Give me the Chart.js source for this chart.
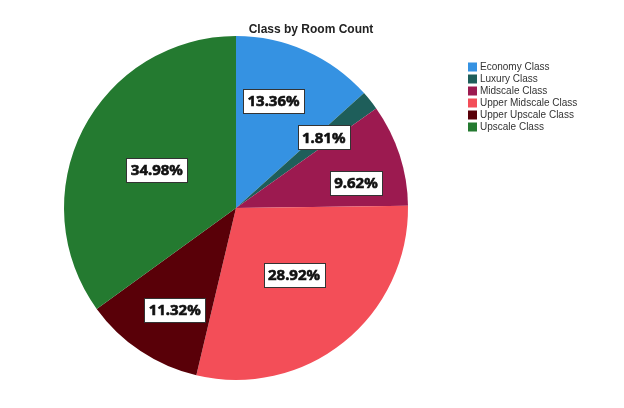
<!DOCTYPE html>
<html>
<head>
<meta charset="utf-8">
<script src="https://cdn.jsdelivr.net/npm/chart.js@4"></script>
<style>
  html, body { margin: 0; padding: 0; background: #fff; }
  #wrap { width: 624px; height: 408px; }
</style>
</head>
<body>
<div id="wrap"><canvas id="roomChart"></canvas></div>
<script>
// Room share per hotel class (percent)
const categories = ['Economy Class', 'Luxury Class', 'Midscale Class', 'Upper Midscale Class', 'Upper Upscale Class', 'Upscale Class'];
const roomShare = [13.36, 1.81, 9.62, 28.92, 11.32, 34.98];
const sliceColors = ['#3592E2', '#1E5E5A', '#9C1A50', '#F34E58', '#590008', '#247A30'];

// where each value box sits: fraction of radius and angle nudge (degrees)
const labelDistance = [0.66, 0.655, 0.713, 0.515, 0.69, 0.51];
const labelNudge = [-4.75, -0.25, 6.1, -2.2, -2.6, -1.5];

// draws the title, the legend box list and the boxed percentage labels
const decorPlugin = {
    id: 'decor',
    afterDraw(chart) {
        const ctx = chart.ctx;
        ctx.save();

        // title
        ctx.font = 'bold 12px "Liberation Sans", Arial, sans-serif';
        ctx.fillStyle = '#222';
        ctx.textAlign = 'center';
        ctx.textBaseline = 'middle';
        ctx.fillText('Class by Room Count', 311, 30);

        // legend
        ctx.font = '10px "Liberation Sans", Arial, sans-serif';
        ctx.textAlign = 'left';
        chart.data.labels.forEach((label, i) => {
            const y = 67 + i * 12;
            ctx.fillStyle = sliceColors[i];
            ctx.fillRect(468, y - 4.5, 9, 9);
            ctx.fillStyle = '#333';
            ctx.fillText(label, 480, y + 0.5);
        });

        // value boxes
        const arcs = chart.getDatasetMeta(0).data;
        ctx.font = 'bold 15px "Noto Sans", sans-serif';
        ctx.textAlign = 'center';
        arcs.forEach((arc, i) => {
            const mid = (arc.startAngle + arc.endAngle) / 2 + labelNudge[i] * Math.PI / 180;
            const d = arc.outerRadius * labelDistance[i];
            const x = arc.x + Math.cos(mid) * d;
            const y = arc.y + Math.sin(mid) * d;
            const text = roomShare[i].toFixed(2) + '%';
            const w = Math.round(ctx.measureText(text).width + 9);
            const h = 24;
            const bx = Math.round(x - w / 2);
            const by = Math.round(y - h / 2);
            ctx.fillStyle = '#fff';
            ctx.fillRect(bx, by, w, h);
            ctx.strokeStyle = '#333';
            ctx.lineWidth = 1;
            ctx.strokeRect(bx + 0.5, by + 0.5, w, h);
            // slightly heavier glyphs, like the original
            ctx.fillStyle = '#111';
            ctx.strokeStyle = '#111';
            ctx.lineWidth = 0.6;
            ctx.fillText(text, x, y + 1);
            ctx.strokeText(text, x, y + 1);
        });

        ctx.restore();
    }
};

new Chart(document.getElementById('roomChart').getContext('2d'), {
    type: 'pie',
    data: {
        labels: categories,
        datasets: [{
            data: roomShare,
            backgroundColor: sliceColors,
            borderWidth: 0
        }]
    },
    options: {
        responsive: true,
        maintainAspectRatio: false,
        animation: false,
        layout: {
            padding: { left: 64, right: 216, top: 36, bottom: 28 }
        },
        plugins: {
            legend: { display: false },
            title: { display: false },
            tooltip: { enabled: false }
        }
    },
    plugins: [decorPlugin]
});
</script>
</body>
</html>
